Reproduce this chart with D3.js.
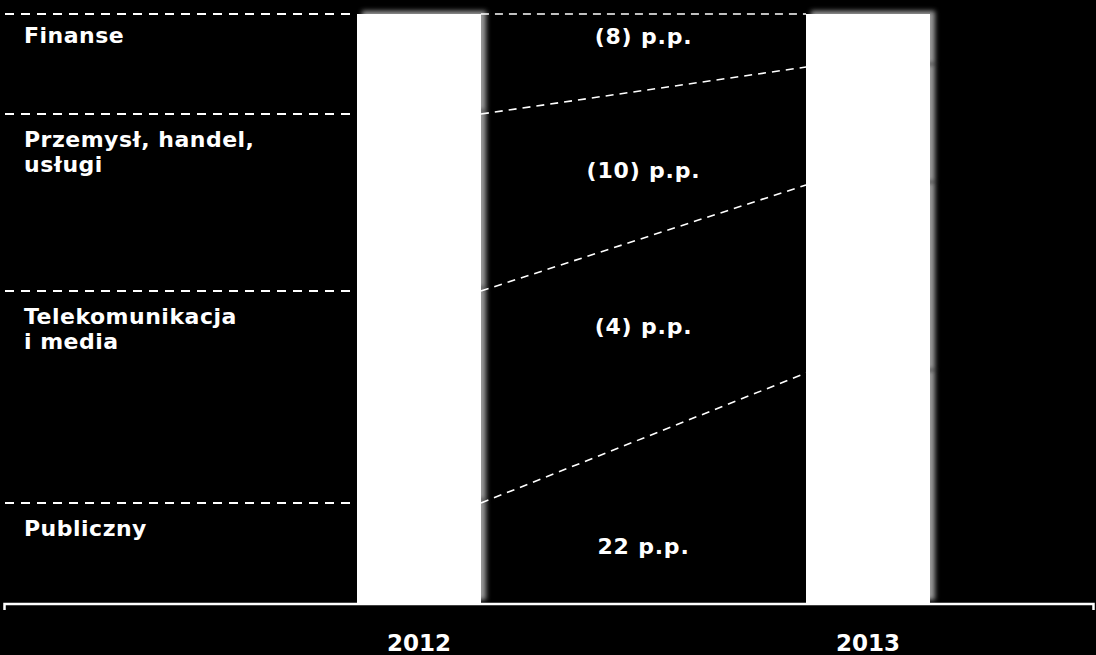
<!DOCTYPE html>
<html>
<head>
<meta charset="utf-8">
<script src="https://cdn.jsdelivr.net/npm/d3@7"></script>
<style>
  body { margin: 0; background: #000; }
  text { font-family: "DejaVu Sans", Verdana, sans-serif; font-weight: bold; fill: #fff; }
</style>
</head>
<body>
<script>
// Data: share of each sector (in %) per year, top segment first
const years = ["2012", "2013"];
const sectors = ["Finanse", "Przemysł, handel, usługi", "Telekomunikacja i media", "Publiczny"];
const sectorLines = [["Finanse"], ["Przemysł, handel,", "usługi"], ["Telekomunikacja", "i media"], ["Publiczny"]];
const share2012 = [17, 30, 36, 17];
const share2013 = [9, 20, 32, 39];

// Set up dimensions
var width = 1096, height = 655;

var svg = d3.select("body").append("svg")
  .attr("width", width)
  .attr("height", height);

// drop shadow for the bar segments
var filter = svg.append("defs").append("filter")
  .attr("id", "shadow")
  .attr("x", "-20%").attr("y", "-20%")
  .attr("width", "140%").attr("height", "140%");
filter.append("feDropShadow")
  .attr("dx", 5).attr("dy", -3)
  .attr("stdDeviation", 2.5)
  .attr("flood-color", "#9a9a9a")
  .attr("flood-opacity", 1);

// Build stack table (bottom segment first for d3.stack)
var keys = sectors.slice().reverse();
var table = years.map(function(yr, j) {
  var row = {year: yr};
  var vals = j === 0 ? share2012 : share2013;
  sectors.forEach(function(s, i) { row[s] = vals[i]; });
  return row;
});
var series = d3.stack().keys(keys)(table);
var segments = [];
series.forEach(function(s) { s.forEach(function(d) { segments.push(d); }); });

// Scales
var x = d3.scaleBand()
  .domain(years)
  .range([357, 930])
  .paddingInner(0.724)
  .paddingOuter(0);

var y = d3.scaleLinear()
  .domain([0, 100])
  .range([603, 14])
  .interpolate(d3.interpolateRound);

// Bars: shadows first, then the white segments on top
function drawSegments(sel) {
  sel.attr("x", function(d) { return Math.round(x(d.data.year)); })
    .attr("y", function(d) { return y(d[1]); })
    .attr("width", Math.round(x.bandwidth()))
    .attr("height", function(d) { return y(d[0]) - y(d[1]); })
    .style("fill", "#fff")
    .attr("shape-rendering", "crispEdges");
}
svg.append("g").selectAll("rect")
  .data(segments)
  .enter().append("rect")
  .call(drawSegments)
  .attr("filter", "url(#shadow)");
svg.append("g").selectAll("rect")
  .data(segments)
  .enter().append("rect")
  .call(drawSegments);

// upper edge of each sector (cumulative from bottom), per year
function topOf(vals, i) { return d3.sum(vals.slice(i)); }

// Left dashed guides and sector labels
sectors.forEach(function(s, i) {
  var yy = y(topOf(share2012, i));
  svg.append("line")
    .attr("x1", 5).attr("x2", 350)
    .attr("y1", yy).attr("y2", yy)
    .style("stroke", "#fff")
    .style("stroke-width", 2)
    .style("stroke-dasharray", "9,7");

  var t = svg.append("text")
    .attr("x", 24)
    .attr("y", yy + (i === 0 ? 29 : 33))
    .style("font-size", "22px")
    .style("letter-spacing", "0.5px");
  sectorLines[i].forEach(function(line, k) {
    t.append("tspan").attr("x", 24).attr("dy", k === 0 ? 0 : 25).text(line);
  });
});

// Connectors between the bars
var xr = x("2012") + x.bandwidth(), xl = x("2013");
sectors.forEach(function(s, i) {
  svg.append("line")
    .attr("x1", xr).attr("x2", xl)
    .attr("y1", y(topOf(share2012, i)))
    .attr("y2", y(topOf(share2013, i)))
    .style("stroke", "#fff")
    .style("stroke-width", 1.6)
    .style("stroke-dasharray", "8,6");
});

// Change labels (percentage points)
var changeLabelAt = [96.2, 73.5, 47, 9.6];
sectors.forEach(function(s, i) {
  var diff = share2013[i] - share2012[i];
  svg.append("text")
    .attr("x", (xr + xl) / 2)
    .attr("y", y(changeLabelAt[i]))
    .attr("dy", "0.35em")
    .attr("text-anchor", "middle")
    .style("font-size", "22px")
    .style("letter-spacing", "0.8px")
    .text(diff < 0 ? "(" + (-diff) + ") p.p." : diff + " p.p.");
});

// x-axis
var axis = svg.append("g")
  .attr("transform", "translate(0," + 604 + ")")
  .call(d3.axisBottom(x).tickSize(0).tickPadding(0).tickSizeOuter(0));
axis.select(".domain").remove();
axis.selectAll(".tick text")
  .attr("y", 47)
  .attr("dy", 0)
  .style("font-family", "\"DejaVu Sans\", Verdana, sans-serif")
  .style("font-size", "23px")
  .style("font-weight", "bold")
  .attr("fill", "#fff");

axis.append("path")
  .attr("d", "M4.5,6V0H1093.5V6")
  .style("fill", "none")
  .style("stroke", "#fff")
  .style("stroke-width", 2.5);
</script>
</body>
</html>
